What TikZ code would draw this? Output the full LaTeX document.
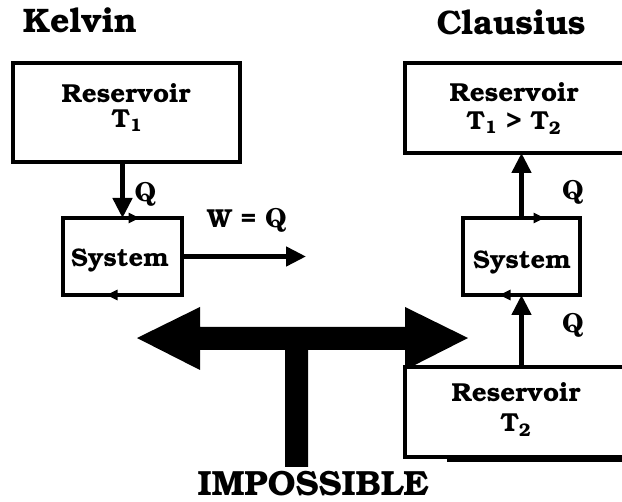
\documentclass[tikz,border=0pt]{standalone}
\usepackage[T1]{fontenc}
\usepackage{bookman}
\usetikzlibrary{arrows.meta}
\newcommand\myQ{{\fontfamily{pnc}\selectfont Q}}
\begin{document}
\begin{tikzpicture}[x=1pt,y=-1pt,
  box/.style={draw,line width=3.6pt,fill=white,inner sep=0pt,outer sep=0pt,anchor=north west},
  txt/.style={inner sep=0pt,anchor=base,font=\fontsize{26}{30}\selectfont\bfseries},
  systxt/.style={inner sep=0pt,anchor=base,font=\fontsize{25.5}{30}\selectfont\bfseries},
  title/.style={inner sep=0pt,anchor=base,font=\fontsize{34}{38}\selectfont\bfseries},
  flow/.style={line width=4.6pt,-{Triangle[length=20pt,width=19pt]}},
  edgetip/.style={line width=3.6pt,-{Triangle[length=11pt,width=10pt]}}]
\useasboundingbox (0,0) rectangle (622,502);
\clip (0,0) rectangle (622,502);
% titles
\node[title] (tkel) at (80,33) {Kelvin};
\node[title] (tcla) at (511,35) {Clausius};
% big impossible arrow
\fill (137,338) -- (200,307) -- (200,327) -- (405,327) -- (405,307) -- (468,338)
  -- (405,370) -- (405,350) -- (308,350) -- (308,467) -- (285,467) -- (285,350)
  -- (200,350) -- (200,370) -- cycle;
\node[inner sep=0pt,anchor=base,font=\fontsize{35}{40}\selectfont\bfseries] (imp) at (313,496) {IMPOSSIBLE};
% Kelvin
\node[box,minimum width=227pt,minimum height=99pt] (kres) at (13,63) {};
\node[txt] (kres1) at (126,103) {Reservoir};
\node[txt] (kres2) at (127,128) {T\textsubscript{1}};
\node[box,minimum width=119pt,minimum height=77pt] (ksys) at (63,218) {};
\node[systxt] (ksyst) at (120,267) {System};
\draw[flow] (kres.south -| ksys.north) -- (ksys.north);
\node[txt] (kq) at (145.5,202) {\myQ};
\coordinate (wend) at (306,256.5);
\draw[flow] (ksys.east) -- (wend);
\node[txt] (kw) at (247,228) {W = \myQ};
\draw[edgetip] (ksys.north) ++(2,0) -- ++(15,0);
\draw[edgetip] (ksys.south) ++(-1,0) -- ++(-15,0);
% Clausius
\node[box,minimum width=240pt,minimum height=90pt] (cres) at (405,63) {};
\node[txt] (cres1) at (514,102) {Reservoir};
\node[txt] (cres2) at (514,130) {T\textsubscript{1} \textgreater{} T\textsubscript{2}};
\node[box,minimum width=117pt,minimum height=77pt] (csys) at (463,218) {};
\node[systxt] (csyst) at (522,269) {System};
\node[box,minimum width=240pt,minimum height=90pt] (cold) at (405,367) {};
\draw[line width=3.6pt] (447,460) -- (640,460);
\node[txt] (cold1) at (516,402) {Reservoir};
\node[txt] (cold2) at (516,432) {T\textsubscript{2}};
\draw[flow] (csys.north) -- (cres.south -| csys.north);
\draw[flow] (cold.north -| csys.south) -- (csys.south);
\node[txt] (cq1) at (573,200) {\myQ};
\node[txt] (cq2) at (573,333) {\myQ};
\draw[edgetip] (csys.north) ++(5,0) -- ++(18,0);
\draw[edgetip] (csys.south) ++(-8,0) -- ++(-14,0);
\end{tikzpicture}
\end{document}
